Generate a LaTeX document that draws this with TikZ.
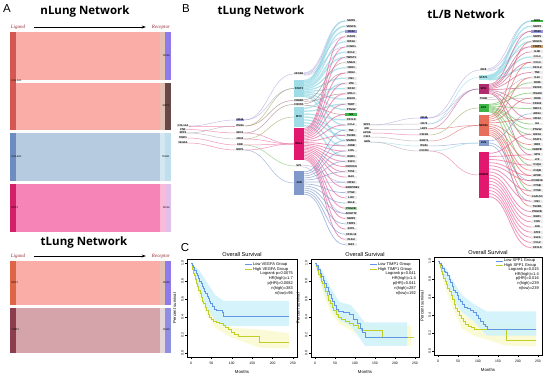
\documentclass[tikz,border=0pt]{standalone}
\usepackage{fontspec}
\setmainfont{Liberation Sans}
\newfontfamily\headfont{Open Sans}
\newfontfamily\lrfont{Liberation Serif}
\usetikzlibrary{calc,arrows.meta}

% --- sankey (panel A) colours
\definecolor{ribsalm}{RGB}{250,172,166}
\definecolor{ribblue}{RGB}{182,202,224}
\definecolor{ribpink}{RGB}{247,132,182}
\definecolor{ribrose}{RGB}{212,164,170}
\definecolor{barcoral}{RGB}{212,88,82}
\definecolor{barorng}{RGB}{222,102,72}
\definecolor{barmaroon}{RGB}{140,62,78}
\definecolor{barblue}{RGB}{110,140,192}
\definecolor{barcrim}{RGB}{212,32,102}
\definecolor{recpurp}{RGB}{142,122,232}
\definecolor{recbrown}{RGB}{102,72,70}
\definecolor{reclblue}{RGB}{192,222,236}
\definecolor{reclav}{RGB}{226,192,236}
\definecolor{recpblue}{RGB}{142,142,226}
\definecolor{stripbeige}{RGB}{228,190,178}
\definecolor{lrred}{RGB}{150,40,50}

% --- network (panel B) colours
\definecolor{nstat}{RGB}{160,220,232}
\definecolor{npink}{RGB}{226,24,110}
\definecolor{nblue}{RGB}{128,152,202}
\definecolor{nmag}{RGB}{176,44,110}
\definecolor{ngreen}{RGB}{60,180,70}
\definecolor{nred}{RGB}{230,110,90}
\definecolor{ncyan}{RGB}{170,232,236}
\definecolor{npurp}{RGB}{150,150,225}
\definecolor{ntan}{RGB}{200,160,115}
\definecolor{ngl}{RGB}{236,236,236}
\definecolor{lpink}{RGB}{232,92,150}
\definecolor{lcyan}{RGB}{140,215,228}
\definecolor{llav}{RGB}{170,160,215}
\definecolor{lolive}{RGB}{150,160,80}
\definecolor{lbrown}{RGB}{150,110,110}
\definecolor{lblue}{RGB}{120,150,205}
\definecolor{lgreen}{RGB}{110,190,90}
\definecolor{lred}{RGB}{222,90,90}
\definecolor{lrose}{RGB}{200,80,130}
\definecolor{lgray}{RGB}{170,160,170}

% --- survival (panel C) colours
\definecolor{kmblue}{RGB}{98,150,226}
\definecolor{kmyel}{RGB}{192,206,40}
\definecolor{cilow}{RGB}{206,242,250}
\definecolor{cihigh}{RGB}{250,250,214}

\tikzset{
  headline/.style={font=\headfont\bfseries\fontsize{11.5}{12}\selectfont},
  panelmark/.style={font=\fontsize{11.5}{12}\selectfont},
  lrtext/.style={font=\lrfont\itshape\fontsize{5}{6}\selectfont, text=lrred, inner sep=0pt},
  tinylab/.style={font=\fontsize{2.6}{3}\selectfont, inner sep=0.3pt},
  gene/.style={font=\fontsize{2.7}{3}\selectfont\bfseries, inner sep=0.5pt, anchor=west, minimum width=12pt},
  hubbox/.style={font=\fontsize{2.7}{3}\selectfont\bfseries, inner sep=0pt, minimum width=10pt},
  hublab/.style={font=\fontsize{2.7}{3}\selectfont\bfseries, inner sep=0.5pt, fill=ngl},
  lk/.style={line width=0.5pt, opacity=0.65},
  frame/.style={black, line width=0.4pt},
  ticklab/.style={font=\fontsize{3.4}{4}\selectfont, inner sep=0pt},
  axlab/.style={font=\fontsize{4.3}{5}\selectfont, inner sep=0pt},
  ptitle/.style={font=\fontsize{5.6}{6}\selectfont, inner sep=0pt},
  leg/.style={font=\fontsize{4}{4.5}\selectfont, inner sep=0pt},
  km/.style={line width=0.55pt}
}

\begin{document}
\begin{tikzpicture}[x=1pt, y=-1pt]
  \fill[white] (0,0) rectangle (550,379);
  \useasboundingbox (0,0) rectangle (550,379);

  % ================= Panel A =================
  \node[panelmark] (markA) at (7,9) {A};
  \node[headline] (titleN) at (85,12) {nLung Network};
  \node[lrtext] (ligN) at (18,27) {Ligand};
  \node[lrtext] (recN) at (161,27) {Receptor};
  \draw[-{Stealth[length=4pt]}, line width=0.6pt] ($(ligN.east)+(9,0)$) -- ($(recN.west)+(-6,0)$);

  % bands 1+2 (one ligand, two receptors)
  \fill[ribsalm] (16,32) rectangle (160,80);
  \fill[stripbeige] (160,32) rectangle (165,80);
  \fill[recpurp] (165,32) rectangle (171,80);
  \fill[ribsalm] (16,83) rectangle (160,130);
  \fill[stripbeige] (160,83) rectangle (165,130);
  \fill[recbrown] (165,83) rectangle (171,130);
  \fill[barcoral] (10,32) rectangle (16,130);
  % band 3
  \fill[ribblue] (16,133) rectangle (160,181);
  \fill[reclblue!70] (160,133) rectangle (165,181);
  \fill[reclblue] (165,133) rectangle (171,181);
  \fill[barblue] (10,133) rectangle (16,181);
  % band 4
  \fill[ribpink] (16,184) rectangle (160,232);
  \fill[ribpink!55] (160,184) rectangle (165,232);
  \fill[reclav] (165,184) rectangle (171,232);
  \fill[barcrim] (10,184) rectangle (16,232);

  \node[tinylab, anchor=west] (nl1) at (11,81) {COL1A1};
  \node[tinylab, anchor=east] (nr1) at (170,56) {CD44};
  \node[tinylab, anchor=east] (nr2) at (170,106) {SDC1};
  \node[tinylab, anchor=west] (nl3) at (11,157) {COL4A1};
  \node[tinylab, anchor=east] (nr3) at (170,157) {ITGB1};
  \node[tinylab, anchor=west] (nl4) at (11,208) {SPP1};
  \node[tinylab, anchor=east] (nr4) at (170,208) {CD44};

  % tLung sankey
  \node[headline] (titleT) at (84,243) {tLung Network};
  \node[lrtext] (ligT) at (18,256) {Ligand};
  \node[lrtext] (recT) at (161,256) {Receptor};
  \draw[-{Stealth[length=4pt]}, line width=0.6pt] ($(ligT.east)+(9,0)$) -- ($(recT.west)+(-6,0)$);

  \fill[ribsalm] (16,261) rectangle (160,305);
  \fill[stripbeige] (160,261) rectangle (165,305);
  \fill[recpurp] (165,261) rectangle (171,305);
  \fill[barorng] (10,261) rectangle (16,305);
  \fill[ribrose] (16,308) rectangle (160,353);
  \fill[ribrose!70!gray!40] (160,308) rectangle (165,353);
  \fill[recpblue] (165,308) rectangle (171,353);
  \fill[barmaroon] (10,308) rectangle (16,353);

  \node[tinylab, anchor=west] (tl1) at (11,283) {SPP1};
  \node[tinylab, anchor=east] (tr1) at (170,283) {CD44};
  \node[tinylab, anchor=west] (tl2) at (11,330) {TIMP1};
  \node[tinylab, anchor=east] (tr2) at (170,330) {CD63};

  % ================= Panel B =================
  \node[panelmark] (markB) at (186,9) {B};
  \node[headline] (titleBT) at (261,12) {tLung Network};
  \node[headline] (titleBB) at (466,14) {tL/B Network};

  % --- tLung: ligands, receptors, regulators
  \foreach \g/\yy [count=\i] in {COL1A1/126, FN1/129.5, SPP1/133, TIMP1/138, VEGFA/143}
    \node[hublab] (ta\i) at (183,\yy) {\g};
  \foreach \g/\yy/\fc [count=\i] in {CD44/120/npurp, ITGB1/126/ngl, SDC1/133/ngl, CD63/139/ngl, KDR/145/ngl, NRP1/150/ngl}
    \node[hublab, fill=\fc] (tb\i) at (240,\yy) {\g};

  \node[hublab] (tc1) at (299,74) {NFKB1};
  \node[hubbox, fill=nstat, minimum height=17pt] (tc2) at (299,88.5) {STAT3};
  \node[hublab] (tc3) at (299,100.5) {CREB1};
  \node[hublab] (tc4) at (299,104.5) {FOXO1};
  \node[hubbox, fill=nstat, minimum height=20pt] (tc5) at (299,117) {MYC};
  \node[hubbox, fill=npink, minimum height=32pt] (tc6) at (299,144) {RELA};
  \node[hublab] (tc7) at (299,166) {SP1};
  \node[hubbox, fill=nblue, minimum height=24pt] (tc8) at (299,183) {JUN};

  % targets
  \foreach \g/\fc [count=\i] in {MMP9/ngl, VEGFA/ngl, CD44/npurp, ICAM1/ngl, HIF1A/ngl, CCND1/ngl, BCL2/ngl, TWIST1/ngl, SNAI1/ngl, CDH1/ngl, CDH2/ngl, FN1/ngl, VIM/ngl, SOX2/ngl, MCL1/ngl, BIRC5/ngl, TERT/ngl, PTGS2/ngl, IL6/ngreen, CXCL8/ngl, CCL2/ngl, TNF/ngl, TGFB1/ngl, SMAD3/ngl, JUNB/ngl, FOS/ngl, EGR1/ngl, KLF4/ngl, CDKN1A/ngl, TP53/ngl, BAX/ngl, NOS2/ngl, SERPINE1/ngl, CTGF/ngl, LOX/ngl, SELE/ngl, PDGFB/ngreen!45, ANGPT2/ngl, MMP2/ngl, TIMP1/ngl, SPP1/ngl, CXCL12/ngl, PLAU/ngl, IGF1/ngl}
    \node[gene, fill=\fc] (td\i) at (345,{21+5.2*(\i-1)}) {\g};

  \foreach \s/\t/\c in {ta1/tb1/llav, ta1/tb2/lpink, ta2/tb3/lpink, ta3/tb2/lgray, ta3/tb4/lgray, ta4/tb5/lpink, ta5/tb6/lpink}
    \draw[lk, draw=\c] (\s.east) .. controls +(20,0) and +(-20,0) .. (\t.west);
  \foreach \s/\t/\c in {tb1/tc1/llav, tb1/tc2/llav, tb2/tc2/lolive, tb2/tc3/lbrown, tb3/tc4/lbrown, tb3/tc6/lpink, tb4/tc5/lolive, tb4/tc6/lpink, tb5/tc7/lgreen, tb5/tc6/lpink, tb6/tc8/lblue, tb6/tc6/lpink}
    \draw[lk, draw=\c] (\s.east) .. controls +(24,0) and +(-24,0) .. (\t.west);

  \foreach \src/\n/\tl/\col/\w in {tc1/4/{1,2,4,6}/llav/0.5pt, tc2/13/{1,2,3,5,7,8,10,12,14,16,18,21,24}/lcyan/1.3pt, tc3/2/{9,15}/lbrown/0.5pt, tc4/2/{11,19}/lbrown/0.5pt, tc5/7/{13,17,20,22,23,25,27}/lcyan/1.3pt, tc6/23/{4,6,8,11,13,15,17,19,21,23,25,26,27,28,29,30,31,33,35,37,39,41,43}/lpink/0.8pt, tc7/2/{32,38}/llav/0.5pt, tc8/12/{22,24,26,28,30,32,34,36,38,40,42,44}/lblue/0.7pt}
    \foreach \t [count=\k] in \tl
      \draw[lk, draw=\col, line width=\w] ($(\src.north east)!{(\k-0.5)/\n}!(\src.south east)$) .. controls +(20,0) and +(-20,0) .. (td\t.west);

  % --- tL/B
  \foreach \g/\yy [count=\i] in {SPP1/125, MIF/129, APOE/133, CSF1/137, GRN/142}
    \node[hublab] (ba\i) at (367,\yy) {\g};
  \foreach \g/\yy/\fc [count=\i] in {CD44/118/npurp, CD74/124/ngl, LRP1/129/ngl, CSF1R/135/ngl, SORT1/141/ngl, ITGB1/146/ngl, CXCR4/151/ngl}
    \node[hublab, fill=\fc] (bb\i) at (424,\yy) {\g};

  \node[hublab] (bc1) at (483.5,70) {IRF8};
  \node[hubbox, fill=ncyan, minimum height=5pt] (bc2) at (483.5,77.5) {STAT1};
  \node[hubbox, fill=nmag, minimum height=10pt] (bc3) at (483.5,89) {SPI1};
  \node[hublab] (bc4) at (483.5,98.5) {TFEB};
  \node[hubbox, fill=ngreen, minimum height=8pt] (bc5) at (483.5,108) {AP1};
  \node[hubbox, fill=nred, minimum height=21pt] (bc6) at (483.5,125.5) {NFKB1};
  \node[hubbox, fill=nblue, minimum height=6pt] (bc7) at (483.5,143) {JUN};
  \node[hubbox, fill=npink, minimum height=46pt] (bc8) at (483.5,175) {CEBPB};

  \foreach \g/\fc [count=\i] in {SPP1/ngreen, MMP2/ngl, CD44/npurp, MMP9/ngl, VEGFA/ngl, TIMP1/ntan, IL1B/ngl, CCL3/ngl, CCL4/ngl, CXCL2/ngl, TNF/ngl, IL10/ngl, CD86/ngl, CSF1R/ngl, ITGAM/ngl, CD68/ngl, CD163/ngl, MRC1/ngl, ARG1/ngl, NOS2/ngl, IL6/ngl, PTGS2/ngl, HIF1A/ngl, STAT1/ngl, IRF8/ngl, CEBPB/ngl, SPI1/ngl, LYZ/ngl, C1QA/ngl, C1QB/ngl, APOE/ngl, FCGR3A/ngl, CTSB/ngl, CTSD/ngl, LGALS3/ngl, FN1/ngl, TGFB1/ngl, PDGFB/ngl, EGR1/ngl, FOS/ngl, JUN/ngl, ATF3/ngl, KLF6/ngl, CCL2/ngl, CXCL8/ngl}
    \node[gene, fill=\fc] (bd\i) at (531,{21+5.15*(\i-1)}) {\g};

  \foreach \s/\t/\c in {ba1/bb1/llav, ba1/bb2/lgray, ba2/bb3/lgray, ba3/bb4/lpink, ba4/bb5/lgray, ba5/bb6/lcyan, ba5/bb7/lgray}
    \draw[lk, draw=\c] (\s.east) .. controls +(22,0) and +(-22,0) .. (\t.west);
  \foreach \s/\t/\c in {bb1/bc1/llav, bb1/bc3/llav, bb2/bc3/llav, bb2/bc2/lcyan, bb3/bc3/lrose, bb3/bc6/lred, bb4/bc5/lolive, bb5/bc6/lred, bb6/bc7/lblue, bb7/bc7/lcyan, bb7/bc8/lpink}
    \draw[lk, draw=\c] (\s.east) .. controls +(24,0) and +(-24,0) .. (\t.west);

  \foreach \src/\n/\tl/\col/\w in {bc1/3/{1,3,6}/llav/0.5pt, bc2/6/{1,2,4,5,8,10}/lcyan/1.3pt, bc3/10/{3,6,7,9,11,14,17,20,24,27}/lrose/0.7pt, bc4/2/{12,16}/lgray/0.5pt, bc5/9/{13,15,18,21,22,23,26,29,34}/lgreen/0.8pt, bc6/12/{5,9,12,16,20,25,28,30,31,33,35,37}/lred/0.7pt, bc7/3/{19,32,36}/lblue/0.6pt, bc8/15/{23,27,29,31,32,34,36,38,39,40,41,42,43,44,45}/lpink/0.8pt}
    \foreach \t [count=\k] in \tl
      \draw[lk, draw=\col, line width=\w] ($(\src.north east)!{(\k-0.5)/\n}!(\src.south east)$) .. controls +(20,0) and +(-20,0) .. (bd\t.west);

  % ================= Panel C =================
  \node[panelmark] (markC) at (185,248) {C};

  % --- plot 1: VEGFA
  \begin{scope}[shift={(191,353)}, x=0.408pt, y=90pt]
    \fill[cihigh] (0,1) -- (20,0.74) -- (40,0.53) -- (60,0.40) -- (100,0.28) -- (168,0.26) -- (240,0.22) -- (240,0.05) -- (168,0.06) -- (100,0.17) -- (60,0.28) -- (40,0.41) -- (20,0.62) -- cycle;
    \fill[cilow, opacity=0.85] (0,1) -- (20,0.92) -- (40,0.78) -- (60,0.64) -- (80,0.58) -- (240,0.58) -- (240,0.30) -- (80,0.30) -- (60,0.36) -- (40,0.50) -- (20,0.68) -- cycle;
    \draw[km, kmyel] (0,1) -| (2,0.97) -| (4,0.93) -| (6,0.89) -| (8,0.86) -| (10,0.82) -| (13,0.78) -| (16,0.74) -| (19,0.70) -| (22,0.66) -| (25,0.62) -| (28,0.58) -| (31,0.55) -| (34,0.51) -| (38,0.47) -| (42,0.43) -| (46,0.40) -| (50,0.37) -| (55,0.35) -| (62,0.34) -| (70,0.33) -| (78,0.31) -| (85,0.29) -| (92,0.26) -| (98,0.23) -| (105,0.21) -| (115,0.19) -| (168,0.12) -- (240,0.12);
    \draw[km, kmblue] (0,1) -| (3,0.98) -| (6,0.95) -| (9,0.92) -| (12,0.89) -| (15,0.86) -| (18,0.83) -| (21,0.80) -| (24,0.77) -| (27,0.74) -| (30,0.72) -| (33,0.69) -| (36,0.66) -| (39,0.63) -| (42,0.61) -| (45,0.58) -| (48,0.55) -| (52,0.52) -| (56,0.49) -| (62,0.48) -| (70,0.47) -| (76,0.45) -| (80,0.41) -- (240,0.41);
    \draw[frame] (-10,-0.044) rectangle (260,1.044);
    \foreach \m in {0,50,...,250} {
      \draw[frame] (\m,-0.044) -- ++(0,-0.022);
      \node[ticklab] (p1m\m) at (\m,-0.12) {\m};
    }
    \foreach \s/\lab [count=\j] in {0/0.0, 0.2/0.2, 0.4/0.4, 0.6/0.6, 0.8/0.8, 1/1.0} {
      \draw[frame] (-10,\s) -- ++(-5,0);
      \node[ticklab, rotate=90] (p1s\j) at (-21,\s) {\lab};
    }
    \node[axlab, rotate=90] (p1yl) at (-40,0.5) {Percent survival};
    \node[axlab] (p1xl) at (125,-0.21) {Months};
    \node[ptitle] (p1t) at (125,1.09) {Overall Survival};
  \end{scope}
  \draw[km, kmblue] (245,264.5) -- (252,264.5);
  \draw[km, kmyel] (245,269) -- (252,269);
  \node[leg, anchor=west] (p1a) at (253,264.5) {Low VEGFA Group};
  \node[leg, anchor=west] (p1b) at (253,269) {High VEGFA Group};
  \foreach \txt [count=\j] in {Logrank p=0.0075, HR(high)=1.7, p(HR)=0.0082, n(high)=383, n(low)=96}
    \node[leg, anchor=east] (p1c\j) at (293,{268.5+5*\j}) {\txt};

  % --- plot 2: TIMP1
  \begin{scope}[shift={(315,353)}, x=0.4pt, y=90pt]
    \fill[cihigh] (0,1) -- (20,0.78) -- (40,0.60) -- (60,0.46) -- (110,0.34) -- (168,0.31) -- (240,0.30) -- (240,0.08) -- (168,0.10) -- (110,0.20) -- (60,0.33) -- (40,0.44) -- (20,0.66) -- cycle;
    \fill[cilow, opacity=0.85] (0,1) -- (20,0.90) -- (40,0.72) -- (60,0.57) -- (90,0.53) -- (125,0.34) -- (230,0.34) -- (230,0.08) -- (125,0.08) -- (90,0.30) -- (60,0.37) -- (40,0.50) -- (20,0.72) -- cycle;
    \draw[km, kmyel] (0,1) -| (3,0.96) -| (6,0.92) -| (9,0.88) -| (12,0.84) -| (15,0.80) -| (18,0.77) -| (22,0.73) -| (26,0.69) -| (30,0.64) -| (34,0.59) -| (38,0.55) -| (42,0.51) -| (46,0.47) -| (52,0.43) -| (58,0.40) -| (66,0.37) -| (75,0.35) -| (85,0.33) -| (95,0.31) -| (108,0.28) -| (115,0.25) -| (168,0.18) -- (248,0.18);
    \draw[km, kmblue] (0,1) -| (4,0.97) -| (8,0.93) -| (12,0.89) -| (16,0.85) -| (20,0.81) -| (24,0.77) -| (28,0.73) -| (32,0.69) -| (36,0.65) -| (40,0.61) -| (44,0.57) -| (48,0.53) -| (52,0.49) -| (58,0.46) -| (70,0.45) -| (85,0.43) -| (95,0.38) -| (105,0.33) -| (112,0.28) -| (118,0.23) -| (125,0.18) -- (232,0.18);
    \draw[frame] (-10,-0.044) rectangle (260,1.044);
    \foreach \m in {0,50,...,250} {
      \draw[frame] (\m,-0.044) -- ++(0,-0.022);
      \node[ticklab] (p2m\m) at (\m,-0.12) {\m};
    }
    \foreach \s/\lab [count=\j] in {0/0.0, 0.2/0.2, 0.4/0.4, 0.6/0.6, 0.8/0.8, 1/1.0} {
      \draw[frame] (-10,\s) -- ++(-5,0);
      \node[ticklab, rotate=90] (p2s\j) at (-22,\s) {\lab};
    }
    \node[axlab, rotate=90] (p2yl) at (-42,0.5) {Percent survival};
    \node[axlab] (p2xl) at (125,-0.21) {Months};
    \node[ptitle] (p2t) at (125,1.09) {Overall Survival};
  \end{scope}
  \draw[km, kmblue] (370,264.5) -- (377,264.5);
  \draw[km, kmyel] (370,269) -- (377,269);
  \node[leg, anchor=west] (p2a) at (378,264.5) {Low TIMP1 Group};
  \node[leg, anchor=west] (p2b) at (378,269) {High TIMP1 Group};
  \foreach \txt [count=\j] in {Logrank p=0.041, HR(high)=1.4, p(HR)=0.041, n(high)=287, n(low)=192}
    \node[leg, anchor=east] (p2c\j) at (416,{268.5+5*\j}) {\txt};

  % --- plot 3: SPP1
  \begin{scope}[shift={(438,351)}, x=0.4pt, y=90pt]
    \fill[cihigh] (0,1) -- (20,0.80) -- (40,0.60) -- (60,0.42) -- (90,0.33) -- (170,0.31) -- (245,0.28) -- (245,0.05) -- (170,0.06) -- (90,0.17) -- (60,0.25) -- (40,0.44) -- (20,0.68) -- cycle;
    \fill[cilow, opacity=0.85] (0,1) -- (20,0.92) -- (40,0.76) -- (60,0.62) -- (90,0.52) -- (122,0.44) -- (245,0.44) -- (245,0.17) -- (122,0.17) -- (90,0.33) -- (60,0.43) -- (40,0.56) -- (20,0.78) -- cycle;
    \draw[km, kmyel] (0,1) -| (2,0.97) -| (5,0.93) -| (8,0.89) -| (11,0.85) -| (14,0.81) -| (17,0.78) -| (20,0.74) -| (24,0.70) -| (28,0.66) -| (32,0.62) -| (36,0.57) -| (40,0.52) -| (44,0.48) -| (48,0.44) -| (52,0.40) -| (57,0.36) -| (62,0.33) -| (68,0.30) -| (75,0.28) -| (82,0.26) -| (90,0.24) -| (170,0.12) -- (245,0.12);
    \draw[km, kmblue] (0,1) -| (3,0.98) -| (7,0.95) -| (11,0.92) -| (15,0.89) -| (19,0.87) -| (23,0.84) -| (27,0.80) -| (31,0.76) -| (35,0.72) -| (39,0.68) -| (43,0.65) -| (47,0.62) -| (51,0.58) -| (55,0.55) -| (60,0.52) -| (66,0.49) -| (72,0.47) -| (80,0.45) -| (88,0.43) -| (95,0.40) -| (100,0.36) -| (106,0.33) -| (112,0.30) -| (118,0.27) -| (122,0.24) -- (245,0.24);
    \draw[frame] (-10,-0.044) rectangle (260,1.044);
    \foreach \m in {0,50,...,250} {
      \draw[frame] (\m,-0.044) -- ++(0,-0.022);
      \node[ticklab] (p3m\m) at (\m,-0.12) {\m};
    }
    \foreach \s/\lab [count=\j] in {0/0.0, 0.2/0.2, 0.4/0.4, 0.6/0.6, 0.8/0.8, 1/1.0} {
      \draw[frame] (-10,\s) -- ++(-5,0);
      \node[ticklab, rotate=90] (p3s\j) at (-21,\s) {\lab};
    }
    \node[axlab, rotate=90] (p3yl) at (-40,0.5) {Percent survival};
    \node[axlab] (p3xl) at (125,-0.21) {Months};
    \node[ptitle] (p3t) at (125,1.09) {Overall Survival};
  \end{scope}
  \draw[km, kmblue] (496,261) -- (503,261);
  \draw[km, kmyel] (496,265.5) -- (503,265.5);
  \node[leg, anchor=west] (p3a) at (504,261) {Low SPP1 Group};
  \node[leg, anchor=west] (p3b) at (504,265.5) {High SPP1 Group};
  \foreach \txt [count=\j] in {Logrank p=0.015, HR(high)=1.4, p(HR)=0.016, n(high)=239, n(low)=239}
    \node[leg, anchor=east] (p3c\j) at (539,{265+4.6*\j}) {\txt};
\end{tikzpicture}
\end{document}
